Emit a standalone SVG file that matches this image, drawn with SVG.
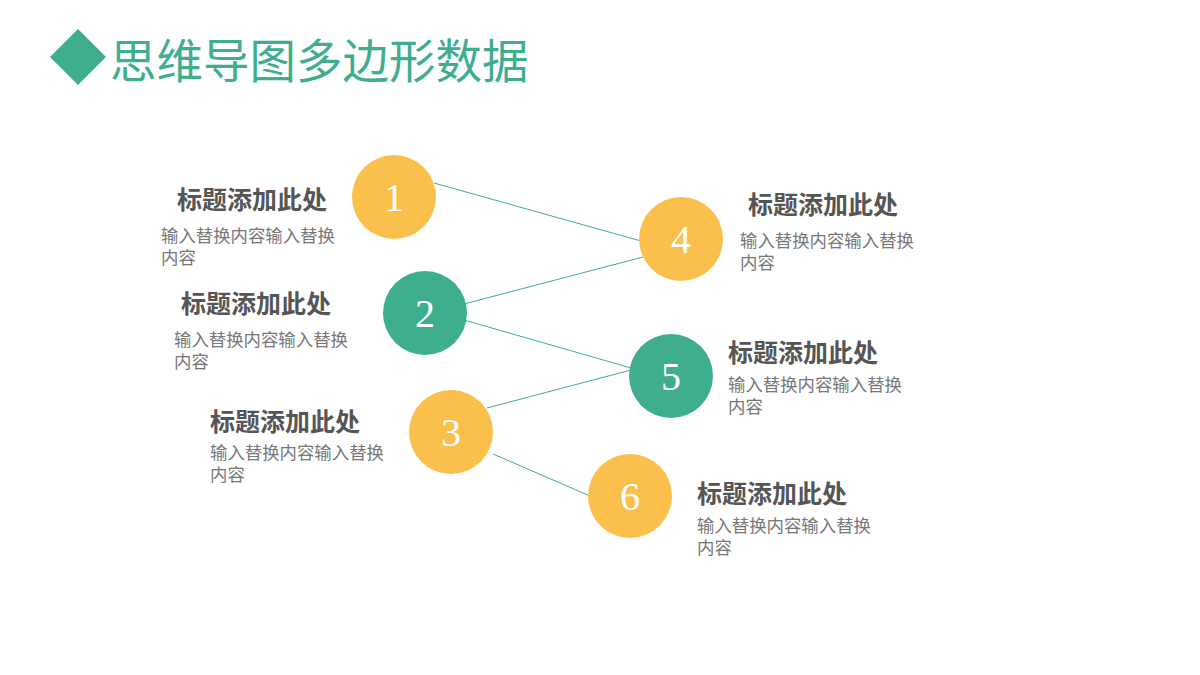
<svg xmlns="http://www.w3.org/2000/svg" width="1200" height="675" viewBox="0 0 1200 675">
<style>
.t{font-family:"Noto Sans CJK SC",sans-serif;font-size:25px;font-weight:bold;fill:#555}
.b{font-family:"Noto Sans CJK SC",sans-serif;font-size:17.4px;fill:#777}
.n{font-family:"Liberation Serif",serif;font-size:40px;fill:#fff;text-anchor:middle}
.y{fill:#FBC04C}.g{fill:#3FAE8F}
</style>
<rect width="1200" height="675" fill="#fff"/>
<g id="header">
<polygon points="78,29 106,57 78,85 50,57" fill="#3FAE8F"/>
<text x="110" y="78" font-family="Noto Sans CJK SC,sans-serif" font-size="46.5" fill="#3FAE8F">思维导图多边形数据</text>
</g>
<g id="connectors" stroke="#3FAE8F" stroke-width="1" fill="none">
<line x1="434" y1="183" x2="641" y2="241"/>
<line x1="464" y1="304" x2="643" y2="257"/>
<line x1="464" y1="320" x2="631" y2="368"/>
<line x1="487" y1="408" x2="631" y2="370"/>
<line x1="493" y1="454" x2="590" y2="496"/>
</g>
<g id="n1"><circle cx="394" cy="197" r="42" class="y"/><text x="394" y="211" class="n">1</text>
<text x="177" y="209" class="t">标题添加此处</text><text x="161" y="242" class="b">输入替换内容输入替换</text><text x="161" y="264" class="b">内容</text></g>
<g id="n2"><circle cx="425" cy="313" r="42" class="g"/><text x="425" y="327" class="n">2</text>
<text x="181" y="313" class="t">标题添加此处</text><text x="174" y="346" class="b">输入替换内容输入替换</text><text x="174" y="368" class="b">内容</text></g>
<g id="n3"><circle cx="451" cy="432" r="42" class="y"/><text x="451" y="446" class="n">3</text>
<text x="210" y="431" class="t">标题添加此处</text><text x="210" y="459" class="b">输入替换内容输入替换</text><text x="210" y="481" class="b">内容</text></g>
<g id="n4"><circle cx="681" cy="239" r="42" class="y"/><text x="681" y="253" class="n">4</text>
<text x="748" y="214" class="t">标题添加此处</text><text x="740" y="247" class="b">输入替换内容输入替换</text><text x="740" y="269" class="b">内容</text></g>
<g id="n5"><circle cx="671" cy="376" r="42" class="g"/><text x="671" y="390" class="n">5</text>
<text x="728" y="362" class="t">标题添加此处</text><text x="728" y="391" class="b">输入替换内容输入替换</text><text x="728" y="413" class="b">内容</text></g>
<g id="n6"><circle cx="630" cy="496" r="42" class="y"/><text x="630" y="510" class="n">6</text>
<text x="697" y="503" class="t">标题添加此处</text><text x="697" y="532" class="b">输入替换内容输入替换</text><text x="697" y="554" class="b">内容</text></g>
</svg>
